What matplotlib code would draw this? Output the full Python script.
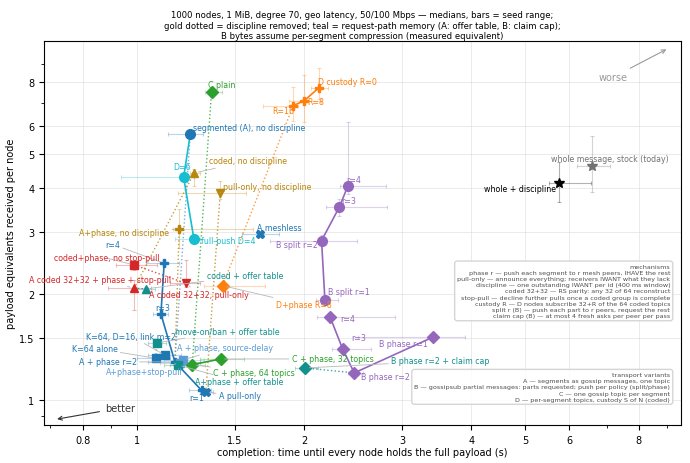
import matplotlib
matplotlib.use('Agg')
import matplotlib.pyplot as plt
from matplotlib.ticker import NullFormatter

# ---- data: completion time (s) and payload equivalents, medians + seed range
# whole-message baselines
whole_names = ['whole message, stock (today)', 'whole + discipline']
whole_t = [6.59, 5.75]
whole_t_lo = [6.19, 5.51]
whole_t_hi = [7.10, 6.56]
whole_b = [4.63, 4.14]
whole_b_lo = [3.90, 3.66]
whole_b_hi = [5.63, 4.75]

# segmented A without discipline -> full push variants
seg_names = ['segmented (A), no discipline', 'D=6', 'full-push D=4']
seg_t = [1.249, 1.215, 1.268]
seg_t_lo = [1.138, 0.937, 1.17]
seg_t_hi = [1.316, 1.27, 1.30]
seg_b = [5.70, 4.30, 2.87]
seg_b_lo = [5.60, 4.25, 2.83]
seg_b_hi = [5.80, 4.35, 2.91]

# discipline removed
nod_names = ['coded, no discipline', 'pull-only, no discipline', 'A+phase, no discipline']
nod_t = [1.269, 1.414, 1.193]
nod_t_lo = [1.25, 1.186, 1.162]
nod_t_hi = [1.30, 1.573, 1.62]
nod_b = [4.42, 3.88, 3.06]
nod_b_lo = [4.06, 3.73, 2.70]
nod_b_hi = [4.55, 4.19, 3.50]

# A phase r sweep
ar_names = ['r=4', 'r=3', 'A + phase r=2', 'r=1']
ar_t = [1.121, 1.106, 1.172, 1.309]
ar_t_lo = [1.04, 1.07, 1.05, 1.24]
ar_t_hi = [1.19, 1.14, 1.30, 1.36]
ar_b = [2.448, 1.758, 1.284, 1.066]
ar_b_lo = [2.40, 1.72, 1.26, 1.05]
ar_b_hi = [2.50, 1.80, 1.31, 1.08]

# other A variants
am_names = ['A pull-only', 'A meshless', 'K=64 alone', 'K=64, D=16, link m=2',
            'A+phase+stop-pull', 'A + phase, source-delay']
am_t = [1.332, 1.666, 1.082, 1.126, 1.196, 1.211]
am_t_lo = [1.30, 1.55, 1.00, 1.05, 1.10, 1.12]
am_t_hi = [1.37, 1.80, 1.15, 1.20, 1.30, 1.32]
am_b = [1.052, 2.966, 1.315, 1.341, 1.276, 1.301]
am_b_lo = [1.04, 2.93, 1.30, 1.33, 1.26, 1.29]
am_b_hi = [1.065, 3.00, 1.33, 1.36, 1.29, 1.32]

# coded 32+32
cd_names = ['coded+phase, no stop-pull', 'A coded 32+32 + phase + stop-pull',
            'A coded 32+32, pull-only']
cd_t = [0.990, 0.990, 1.227]
cd_t_lo = [0.92, 0.89, 1.15]
cd_t_hi = [1.09, 1.06, 1.30]
cd_b = [2.421, 2.079, 2.148]
cd_b_lo = [2.35, 1.80, 2.10]
cd_b_hi = [2.50, 2.20, 2.50]

# request-path memory
mem_names = ['coded + offer table', 'move-on/ban + offer table',
             'A+phase + offer table', 'B phase r=2 + claim cap']
mem_t = [1.038, 1.089, 1.187, 2.010]
mem_t_lo = [1.00, 1.05, 1.15, 1.93]
mem_t_hi = [1.08, 1.13, 1.25, 2.12]
mem_b = [2.07, 1.454, 1.259, 1.234]
mem_b_lo = [2.03, 1.43, 1.24, 1.22]
mem_b_hi = [2.10, 1.48, 1.28, 1.25]

# C: one topic per segment
c_names = ['C plain', 'C + phase, 64 topics', 'C + phase, 32 topics']
c_t = [1.364, 1.259, 1.416]
c_t_lo = [1.327, 1.12, 1.30]
c_t_hi = [1.424, 1.33, 1.56]
c_b = [7.51, 1.261, 1.309]
c_b_lo = [7.40, 1.24, 1.29]
c_b_hi = [7.60, 1.28, 1.33]

# D: custody
d_names = ['D custody R=0', 'R=8', 'R=16', 'D+phase R=8']
d_t = [2.128, 2.001, 1.913, 1.428]
d_t_lo = [2.06, 1.88, 1.69, 1.32]
d_t_hi = [2.21, 2.15, 1.95, 1.70]
d_b = [7.72, 7.09, 6.87, 2.115]
d_b_lo = [7.17, 6.17, 6.22, 2.08]
d_b_hi = [8.77, 8.40, 7.76, 2.15]

# B split r sweep
bs_names = ['r=4', 'r=3', 'B split r=2', 'B split r=1']
bs_t = [2.399, 2.314, 2.151, 2.181]
bs_t_lo = [2.32, 2.19, 1.74, 2.10]
bs_t_hi = [2.81, 2.82, 2.49, 2.30]
bs_b = [4.06, 3.53, 2.84, 1.926]
bs_b_lo = [3.85, 3.34, 2.75, 1.88]
bs_b_hi = [6.16, 3.73, 2.95, 1.97]

# B phase r sweep
bp_names = ['r=4', 'r=3', 'B phase r=2', 'B phase r=1']
bp_t = [2.227, 2.347, 2.463, 3.408]
bp_t_lo = [2.11, 2.25, 2.40, 2.50]
bp_t_hi = [2.91, 2.64, 2.55, 3.90]
bp_b = [1.727, 1.398, 1.195, 1.509]
bp_b_lo = [1.70, 1.36, 1.17, 1.47]
bp_b_hi = [1.75, 1.43, 1.22, 1.55]

x_ticks = [0.8, 1, 1.5, 2, 3, 4, 5, 6, 8]
x_tick_labels = ['0.8', '1', '1.5', '2', '3', '4', '5', '6', '8']
y_ticks = [1, 1.5, 2, 3, 4, 5, 6, 8]
y_tick_labels = ['1', '1.5', '2', '3', '4', '5', '6', '8']

mech_lines = [
    'mechanisms',
    'phase r \u2014 push each segment to r mesh peers, IHAVE the rest',
    'pull-only \u2014 announce everything; receivers IWANT what they lack',
    'discipline \u2014 one outstanding IWANT per id (400 ms window)',
    'coded 32+32 \u2014 RS parity: any 32 of 64 reconstruct',
    'stop-pull \u2014 decline further pulls once a coded group is complete',
    'custody R \u2014 D nodes subscribe 32+R of the 64 coded topics',
    'split r (B) \u2014 push each part to r peers, request the rest',
    'claim cap (B) \u2014 at most 4 fresh asks per peer per pass',
]
transport_lines = [
    'transport variants',
    'A \u2014 segments as gossip messages, one topic',
    'B \u2014 gossipsub partial messages: parts requested; push per policy (split/phase)',
    'C \u2014 one gossip topic per segment',
    'D \u2014 per-segment topics, custody S of N (coded)',
]

#%% colours
blue = '#1f77b4'
lblue = '#5b9bd5'
cyan = '#17becf'
gold = '#b8860b'
green = '#2ca02c'
orange = '#ff7f0e'
purple = '#9467bd'
red = '#d62728'
teal = '#12908e'

fig = plt.figure(figsize=(6.9, 4.64), dpi=100)
ax = fig.add_axes([0.064, 0.082, 0.923, 0.828])
ax.set_xscale('log')
ax.set_yscale('log')


def ebar(t, tl, th, b, bl, bh, color):
    ax.errorbar(t, b, xerr=[[t - tl], [th - t]], yerr=[[b - bl], [bh - b]],
                fmt='none', ecolor=color, alpha=0.3, elinewidth=0.8,
                capsize=1.5, capthick=0.8, zorder=2)


def mark(t, b, color, marker, ms=6):
    ax.plot([t], [b], marker=marker, color=color, ms=ms, ls='none', zorder=5)


def lab(text, t, b, dx, dy, color, ha='left', leader=True):
    ap = None
    if leader:
        ap = dict(arrowstyle='-', color='0.72', lw=0.6, shrinkA=0, shrinkB=3)
    ax.annotate(text, (t, b), xytext=(dx * 0.72, dy * 0.72),
                textcoords='offset points', ha=ha, va='center', fontsize=5.7,
                color=color, arrowprops=ap, zorder=6)


def group(t, tl, th, b, bl, bh, colors, markers, ms=6):
    for i in range(len(t)):
        ebar(t[i], tl[i], th[i], b[i], bl[i], bh[i], colors[i])
    for i in range(len(t)):
        mark(t[i], b[i], colors[i], markers[i], ms)


def link(t0, b0, t1, b1, color, ls=':', lw=1.0, alpha=0.8):
    ax.plot([t0, t1], [b0, b1], ls=ls, color=color, lw=lw, alpha=alpha, zorder=3)


#%% dotted links (gold = discipline removed, teal = request-path memory)
link(nod_t[0], nod_b[0], cd_t[1], cd_b[1], gold)
link(nod_t[1], nod_b[1], am_t[0], am_b[0], gold)
link(nod_t[2], nod_b[2], ar_t[2], ar_b[2], gold)
link(seg_t[0], seg_b[0], ar_t[2], ar_b[2], lblue)
link(c_t[0], c_b[0], c_t[1], c_b[1], green)
link(d_t[2], d_b[2], d_t[3], d_b[3], orange)
link(cd_t[0], cd_b[0], cd_t[2], cd_b[2], red)
link(cd_t[1], cd_b[1], mem_t[0], mem_b[0], teal)
link(am_t[2], am_b[2], mem_t[1], mem_b[1], teal)
link(ar_t[2], ar_b[2], mem_t[2], mem_b[2], teal)
link(bp_t[2], bp_b[2], mem_t[3], mem_b[3], teal)

#%% solid sweep lines
ax.plot(seg_t, seg_b, color=cyan, lw=1.2, zorder=4)
ax.plot(ar_t, ar_b, color=blue, lw=1.2, zorder=4)
ax.plot(d_t[:3], d_b[:3], color=orange, lw=1.2, zorder=4)
ax.plot(bs_t, bs_b, color=purple, lw=1.2, zorder=4)
ax.plot(bp_t, bp_b, color=purple, lw=1.2, zorder=4)
ax.plot(c_t[1:], c_b[1:], color=green, lw=1.2, zorder=4)

#%% markers
group(whole_t, whole_t_lo, whole_t_hi, whole_b, whole_b_lo, whole_b_hi,
      ['0.45', 'black'], ['*', '*'], 7)
group(seg_t, seg_t_lo, seg_t_hi, seg_b, seg_b_lo, seg_b_hi,
      [blue, cyan, cyan], ['o', 'o', 'o'], 7)
group(nod_t, nod_t_lo, nod_t_hi, nod_b, nod_b_lo, nod_b_hi,
      [gold] * 3, ['^', 'v', 'P'], 6)
group(ar_t, ar_t_lo, ar_t_hi, ar_b, ar_b_lo, ar_b_hi,
      [blue] * 4, ['P'] * 4, 6)
group(am_t, am_t_lo, am_t_hi, am_b, am_b_lo, am_b_hi,
      [blue, blue, blue, blue, lblue, lblue], ['X', 'X', 's', 's', 's', 's'], 6)
group(cd_t, cd_t_lo, cd_t_hi, cd_b, cd_b_lo, cd_b_hi,
      [red] * 3, ['s', '^', 'v'], 6)
group(mem_t, mem_t_lo, mem_t_hi, mem_b, mem_b_lo, mem_b_hi,
      [teal] * 4, ['^', 's', 's', 'D'], 6)
group(c_t, c_t_lo, c_t_hi, c_b, c_b_lo, c_b_hi,
      [green] * 3, ['D', 'D', 'D'], 6)
group(d_t, d_t_lo, d_t_hi, d_b, d_b_lo, d_b_hi,
      [orange] * 4, ['P', 'P', 'P', 'D'], 6)
group(bs_t, bs_t_lo, bs_t_hi, bs_b, bs_b_lo, bs_b_hi,
      [purple] * 4, ['o'] * 4, 7)
group(bp_t, bp_t_lo, bp_t_hi, bp_b, bp_b_lo, bp_b_hi,
      [purple] * 4, ['D'] * 4, 6)

#%% labels (pixel offsets from the point)
lab(whole_names[0], whole_t[0], whole_b[0], -41, 7, '0.45', leader=False)
lab(whole_names[1], whole_t[1], whole_b[1], -3, -6, 'black', 'right', False)

lab(seg_names[0], seg_t[0], seg_b[0], 3, 7, blue, leader=False)
lab(seg_names[1], seg_t[1], seg_b[1], -2, 11, cyan, 'center', False)
lab(seg_names[2], seg_t[2], seg_b[2], 7, -2, cyan, leader=False)

lab(nod_names[0], nod_t[0], nod_b[0], 15, 12, gold)
lab(nod_names[1], nod_t[1], nod_b[1], 3, 6, gold)
lab(nod_names[2], nod_t[2], nod_b[2], -10, -3, gold, 'right')

lab(ar_names[0], ar_t[0], ar_b[0], -44, 19, blue, 'right')
lab(ar_names[1], ar_t[1], ar_b[1], 2, 6, blue, 'center', False)
lab(ar_names[2], ar_t[2], ar_b[2], -38, 0, blue, 'right')
lab(ar_names[3], ar_t[3], ar_b[3], -5, -7, blue, 'center', False)

lab(am_names[0], am_t[0], am_b[0], 13, -3, blue)
lab(am_names[1], am_t[1], am_b[1], -3, 6, blue, leader=False)
lab(am_names[2], am_t[2], am_b[2], -38, 10, blue, 'right')
lab(am_names[3], am_t[3], am_b[3], 11, 19, blue, 'right')
lab(am_names[4], am_t[4], am_b[4], 3, -9, lblue, 'right')
lab(am_names[5], am_t[5], am_b[5], -6, 12, lblue)

lab(cd_names[0], cd_t[0], cd_b[0], 25, 7, red, 'right')
lab(cd_names[1], cd_t[1], cd_b[1], 37, 9, red, 'right')
lab(cd_names[2], cd_t[2], cd_b[2], -37, -11, red)

lab(mem_names[0], mem_t[0], mem_b[0], 61, 13, teal)
lab(mem_names[1], mem_t[1], mem_b[1], 18, 12, teal)
lab(mem_names[2], mem_t[2], mem_b[2], 17, -17, teal)
lab(mem_names[3], mem_t[3], mem_b[3], 86, 7, teal)

lab(c_names[0], c_t[0], c_b[0], -4, 7, green, leader=False)
lab(c_names[1], c_t[1], c_b[1], 21, -8, green)
lab(c_names[2], c_t[2], c_b[2], 71, 0, green)

lab(d_names[0], d_t[0], d_b[0], -1, 6, orange, leader=False)
lab(d_names[1], d_t[1], d_b[1], 3, -1, orange, leader=False)
lab(d_names[2], d_t[2], d_b[2], -10, -5, orange, 'center', False)
lab(d_names[3], d_t[3], d_b[3], 81, -19, orange, 'center')

lab(bs_names[0], bs_t[0], bs_b[0], -2, 6, purple, leader=False)
lab(bs_names[1], bs_t[1], bs_b[1], 2, 7, purple, leader=False)
lab(bs_names[2], bs_t[2], bs_b[2], -4, -4, purple, 'right', False)
lab(bs_names[3], bs_t[3], bs_b[3], 3, 8, purple, leader=False)

lab(bp_names[0], bp_t[0], bp_b[0], 10, -2, purple, leader=False)
lab(bp_names[1], bp_t[1], bp_b[1], 9, 11, purple, leader=False)
lab(bp_names[2], bp_t[2], bp_b[2], 7, -4, purple, leader=False)
lab(bp_names[3], bp_t[3], bp_b[3], -5, -6, purple, 'right', False)

#%% axes
ax.set_xlim(0.682, 9.53)
ax.set_ylim(0.85, 10.5)
ax.set_xticks(x_ticks, x_tick_labels)
ax.set_yticks(y_ticks, y_tick_labels)
ax.xaxis.set_minor_formatter(NullFormatter())
ax.yaxis.set_minor_formatter(NullFormatter())
ax.tick_params(labelsize=7)
ax.grid(True, which='major', color='0.85', lw=0.6, alpha=0.6)
ax.set_axisbelow(True)
ax.set_xlabel('completion: time until every node holds the full payload (s)', fontsize=7, labelpad=2)
ax.set_ylabel('payload equivalents received per node', fontsize=7, labelpad=2)
ax.set_title('1000 nodes, 1 MiB, degree 70, geo latency, 50/100 Mbps \u2014 medians, bars = seed range;\n'
             'gold dotted = discipline removed; teal = request-path memory (A: offer table, B: claim cap);\n'
             'B bytes assume per-segment compression (measured equivalent)', fontsize=6.1, pad=2)

ax.annotate('better', xy=(0.016, 0.014), xytext=(0.119, 0.044), xycoords='axes fraction',
            textcoords='axes fraction', ha='center', va='center', fontsize=7, color='0.2',
            arrowprops=dict(arrowstyle='->', color='0.2', lw=0.8))
ax.annotate('worse', xy=(0.981, 0.981), xytext=(0.893, 0.905), xycoords='axes fraction',
            textcoords='axes fraction', ha='center', va='center', fontsize=7, color='0.6',
            arrowprops=dict(arrowstyle='->', color='0.6', lw=0.8))

box = dict(boxstyle='round,pad=0.4', fc='white', ec='0.82', alpha=0.9)
ax.text(0.983, 0.42, '\n'.join(mech_lines), transform=ax.transAxes, ha='right', va='top',
        fontsize=4.6, color='0.3', linespacing=1.3, bbox=box, zorder=7)
ax.text(0.983, 0.138, '\n'.join(transport_lines), transform=ax.transAxes, ha='right', va='top',
        fontsize=4.6, color='0.3', linespacing=1.3, bbox=box, zorder=7)

plt.savefig('out.png', dpi=100)
